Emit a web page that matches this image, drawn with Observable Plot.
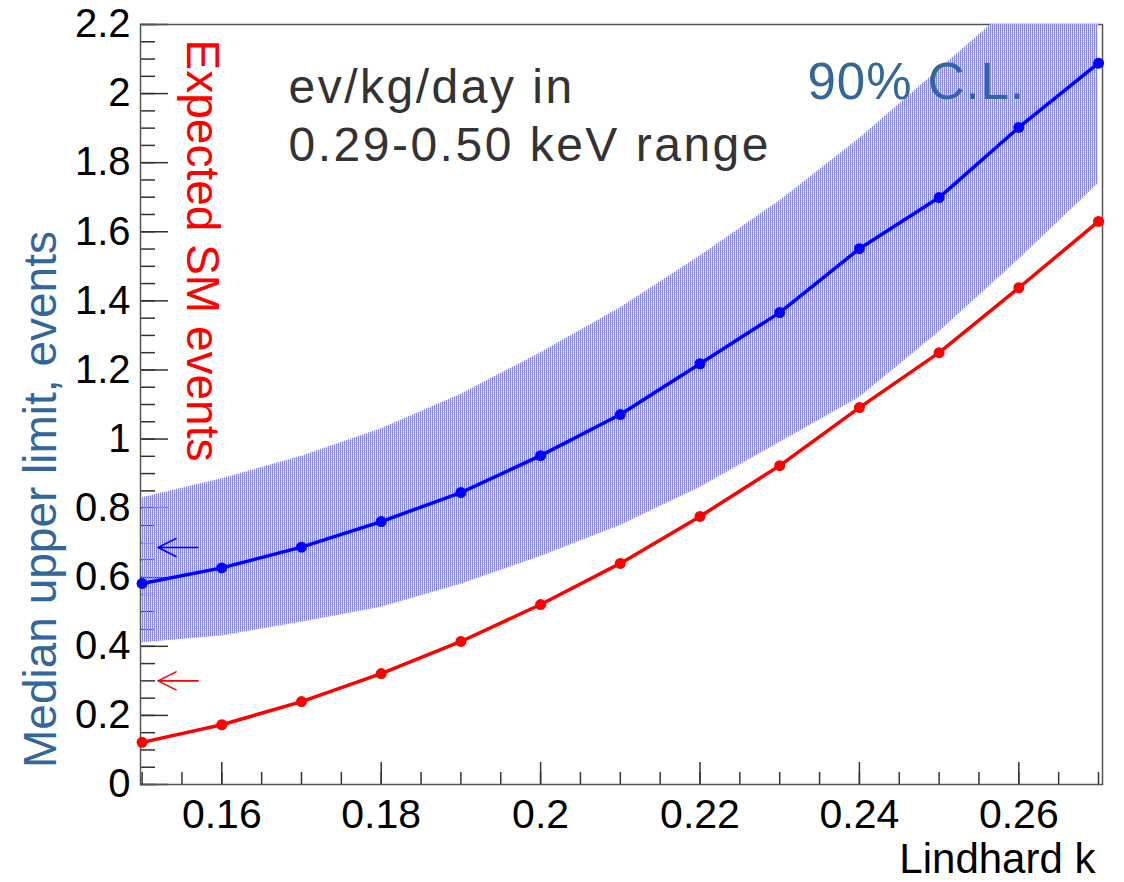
<!DOCTYPE html>
<html><head><meta charset="utf-8">
<script src="https://cdn.jsdelivr.net/npm/d3@7"></script>
<script src="https://cdn.jsdelivr.net/npm/@observablehq/plot@0.6"></script>
<style>html,body{margin:0;padding:0;background:#fff;}</style>
</head><body><div id="chart"></div>
<script>
// ---- data ----
const kValues     = [0.15, 0.16, 0.17, 0.18, 0.19, 0.20, 0.21, 0.22, 0.23, 0.24, 0.25, 0.26, 0.27];
const medianLimit = [0.582, 0.627, 0.687, 0.761, 0.845, 0.952, 1.071, 1.218, 1.366, 1.551, 1.699, 1.902, 2.088];
const bandLow     = [0.41, 0.43, 0.47, 0.513, 0.58, 0.66, 0.75, 0.86, 0.99, 1.12, 1.31, 1.52, 1.74];
const bandHigh    = [0.83, 0.885, 0.95, 1.03, 1.13, 1.25, 1.38, 1.53, 1.69, 1.87, 2.07, 2.27, 2.45];
const expectedSM  = [0.122, 0.173, 0.240, 0.321, 0.414, 0.521, 0.640, 0.776, 0.923, 1.091, 1.250, 1.438, 1.630];

const xMajorTicks = [0.16, 0.18, 0.20, 0.22, 0.24, 0.26];
const xTickLabels = ["0.16", "0.18", "0.2", "0.22", "0.24", "0.26"];
const xMinorTicks = [0.15,0.155,0.16,0.165,0.17,0.175,0.18,0.185,0.19,0.195,0.20,0.205,0.21,0.215,0.22,0.225,0.23,0.235,0.24,0.245,0.25,0.255,0.26,0.265,0.27];
const yMajorTicks = [0, 0.2, 0.4, 0.6, 0.8, 1.0, 1.2, 1.4, 1.6, 1.8, 2.0, 2.2];
const yTickLabels = ["0", "0.2", "0.4", "0.6", "0.8", "1", "1.2", "1.4", "1.6", "1.8", "2", "2.2"];
const yMinorTicks = [0,0.05,0.1,0.15,0.2,0.25,0.3,0.35,0.4,0.45,0.5,0.55,0.6,0.65,0.7,0.75,0.8,0.85,0.9,0.95,1.0,1.05,1.1,1.15,1.2,1.25,1.3,1.35,1.4,1.45,1.5,1.55,1.6,1.65,1.7,1.75,1.8,1.85,1.9,1.95,2.0,2.05,2.1,2.15,2.2];

// arrows pointing at the axis (k of tip, value)
const arrowSeries = ["limit", "sm"];
const arrowTipK   = [0.152, 0.152];
const arrowValue  = [0.686, 0.300];
const arrowColors = ["#0000ff", "#ff0000"];

const xTitle = "Lindhard k";
const yTitleBlue = "Median upper limit, events";
const yTitleRed = "Expected SM events";
const noteText = "ev/kg/day in\n0.29-0.50 keV range";
const clText = "90% C.L.";

const data = kValues.map((k, i) => ({k, median: medianLimit[i], lo: bandLow[i], hi: bandHigh[i], sm: expectedSM[i]}));
const arrows = arrowSeries.map((s, i) => ({s, k: arrowTipK[i], v: arrowValue[i], c: arrowColors[i]}));

const openArrow = {
  draw(ctx, l) {
    ctx.moveTo(0, 0);
    ctx.lineTo(0, -l);
    ctx.moveTo(-9, -l + 18);
    ctx.lineTo(0, -l);
    ctx.lineTo(9, -l + 18);
  }
};

const defsMark = () => {
  const defs = d3.create("svg:defs");
  const p = defs.append("pattern").attr("id", "bandPattern")
    .attr("patternUnits", "userSpaceOnUse").attr("width", 2).attr("height", 2);
  p.append("rect").attr("x", 0).attr("y", 0).attr("width", 1).attr("height", 2).attr("fill", "rgb(132,132,246)");
  p.append("rect").attr("x", 1).attr("y", 0).attr("width", 1).attr("height", 1).attr("fill", "rgb(212,212,252)");
  return defs.node();
};

const chart = Plot.plot({
  width: 1124,
  height: 882,
  marginLeft: 140,
  marginRight: 22,
  marginTop: 24,
  marginBottom: 98,
  style: {fontFamily: "'Liberation Sans', Arial, Helvetica, sans-serif", background: "white", color: "black"},
  x: {domain: [0.1498, 0.2705]},
  y: {domain: [0, 2.2]},
  marks: [
    defsMark,
    Plot.axisY(yMinorTicks, {tickSize: -15, fill: "none", label: null, stroke: "#333", strokeWidth: 1.5}),
    Plot.axisY(yMajorTicks, {tickSize: -28, fill: "none", label: null, stroke: "#333", strokeWidth: 1.5}),
    Plot.axisY(yMajorTicks, {tickSize: 0, tickPadding: 10, fontSize: 40, label: null, fill: "black",
      tickFormat: d => yTickLabels[yMajorTicks.indexOf(d)]}),
    Plot.axisX(xMinorTicks, {anchor: "bottom", tickSize: -12, fill: "none", label: null, stroke: "#333", strokeWidth: 1.5}),
    Plot.axisX(xMajorTicks, {anchor: "bottom", tickSize: -22, fill: "none", label: null, stroke: "#333", strokeWidth: 1.5}),
    Plot.axisX(xMajorTicks, {anchor: "bottom", tickSize: 0, tickPadding: 14, fontSize: 41, label: null, fill: "black",
      tickFormat: d => xTickLabels[xMajorTicks.indexOf(d)]}),
    Plot.frame({stroke: "#555", strokeWidth: 1.5}),
    Plot.areaY(data, {x: "k", y1: "lo", y2: "hi", fill: "url(#bandPattern)", clip: true}),
    Plot.line(data, {x: "k", y: "sm", stroke: "#ff0000", strokeWidth: 3.5}),
    Plot.dot(data, {x: "k", y: "sm", r: 5.5, fill: "#ff0000"}),
    Plot.line(data, {x: "k", y: "median", stroke: "#0000ff", strokeWidth: 3.5}),
    Plot.dot(data, {x: "k", y: "median", r: 5.5, fill: "#0000ff"}),
    Plot.vector(arrows, {x: "k", y: "v", stroke: "c", length: 40, rotate: -90, anchor: "end", shape: openArrow, strokeWidth: 1.6}),
    Plot.text([xTitle], {text: d => d, frameAnchor: "bottom-right", textAnchor: "end", lineAnchor: "bottom", dx: -7, dy: 88, fontSize: 42, fill: "black"}),
    Plot.text([yTitleBlue], {text: d => d, frameAnchor: "left", rotate: -90, textAnchor: "middle", lineAnchor: "bottom", dx: -85, dy: 95, fontSize: 46, fill: "#336699"}),
    Plot.text([yTitleRed], {text: d => d, frameAnchor: "top-left", rotate: 90, textAnchor: "middle", lineAnchor: "bottom", dx: 46, dy: 226, fontSize: 46, fill: "#ff0000"}),
    Plot.text([noteText], {text: d => d, frameAnchor: "top-left", textAnchor: "start", lineAnchor: "top", dx: 148, dy: 38, fontSize: 48, lineHeight: 1.2, fill: "#333333"}),
    Plot.text([clText], {text: d => d, frameAnchor: "top-left", textAnchor: "start", lineAnchor: "top", dx: 667, dy: 38, fontSize: 51, fill: "#336699"})
  ]
});
chart.querySelectorAll("text").forEach(t => {
  const s = t.textContent;
  if (s.includes("ev/kg") || s.includes("keV")) t.setAttribute("letter-spacing", "2.5");
  if (s.includes("C.L.")) t.setAttribute("letter-spacing", "1");
});
document.getElementById("chart").appendChild(chart);
</script>
</body></html>
